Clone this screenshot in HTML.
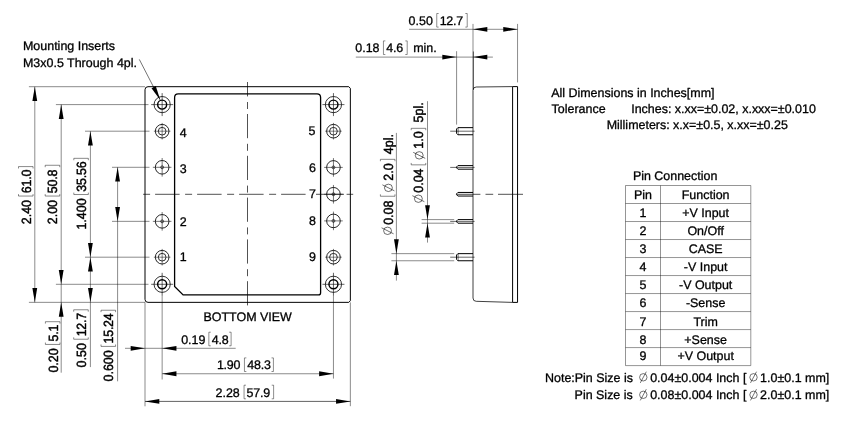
<!DOCTYPE html>
<html lang="en">
<head>
<meta charset="utf-8">
<title>Mechanical Drawing</title>
<style>html,body{margin:0;padding:0;background:#fff}svg{display:block;will-change:transform}text{white-space:pre;stroke:#000;stroke-width:0.3px;stroke-linejoin:round}.v text{stroke-width:0.42px}</style>
</head>
<body>
<svg width="849" height="431" viewBox="0 0 849 431" font-family="'Liberation Sans', sans-serif" fill="#000" text-rendering="geometricPrecision">
<rect width="849" height="431" fill="#fff"/>
<path d="M148.0,86.7 H348.75 L350.35,88.3 V300.75 L348.75,302.35 H148.0 Q145.0,302.35 145.0,299.35 V89.7 Q145.0,86.7 148.0,86.7 Z" fill="none" stroke="#000" stroke-width="1.0"/>
<path d="M178.2,93.8 H317.0 Q320.6,93.8 320.6,97.39999999999999 V292.7 Q320.6,294.9 318.40000000000003,294.9 H183.1 L174.6,286.4 V97.39999999999999 Q174.6,93.8 178.2,93.8 Z" fill="none" stroke="#000" stroke-width="1.3"/>
<circle cx="162.15" cy="104.6" r="8.1" fill="none" stroke="#000" stroke-width="0.8"/>
<circle cx="162.15" cy="104.6" r="4.5" fill="none" stroke="#000" stroke-width="1.45"/>
<line x1="151.15" y1="104.60" x2="173.15" y2="104.60" stroke="#000" stroke-width="0.62" />
<line x1="162.15" y1="93.10" x2="162.15" y2="116.10" stroke="#000" stroke-width="0.62" />
<circle cx="162.15" cy="284.3" r="8.1" fill="none" stroke="#000" stroke-width="0.8"/>
<circle cx="162.15" cy="284.3" r="4.5" fill="none" stroke="#000" stroke-width="1.45"/>
<line x1="151.15" y1="284.30" x2="173.15" y2="284.30" stroke="#000" stroke-width="0.62" />
<line x1="162.15" y1="272.80" x2="162.15" y2="295.80" stroke="#000" stroke-width="0.62" />
<circle cx="333.45" cy="104.6" r="8.1" fill="none" stroke="#000" stroke-width="0.8"/>
<circle cx="333.45" cy="104.6" r="4.5" fill="none" stroke="#000" stroke-width="1.45"/>
<line x1="322.45" y1="104.60" x2="344.45" y2="104.60" stroke="#000" stroke-width="0.62" />
<line x1="333.45" y1="93.10" x2="333.45" y2="116.10" stroke="#000" stroke-width="0.62" />
<circle cx="333.45" cy="284.3" r="8.1" fill="none" stroke="#000" stroke-width="0.8"/>
<circle cx="333.45" cy="284.3" r="4.5" fill="none" stroke="#000" stroke-width="1.45"/>
<line x1="322.45" y1="284.30" x2="344.45" y2="284.30" stroke="#000" stroke-width="0.62" />
<line x1="333.45" y1="272.80" x2="333.45" y2="295.80" stroke="#000" stroke-width="0.62" />
<circle cx="162.15" cy="131.2" r="6.8" fill="none" stroke="#000" stroke-width="0.85"/>
<circle cx="162.15" cy="131.2" r="3.85" fill="none" stroke="#000" stroke-width="0.8"/>
<line x1="153.85" y1="131.20" x2="170.45" y2="131.20" stroke="#000" stroke-width="0.5" />
<line x1="162.15" y1="122.90" x2="162.15" y2="139.50" stroke="#000" stroke-width="0.5" />
<circle cx="162.15" cy="167.3" r="6.8" fill="none" stroke="#000" stroke-width="0.85"/>
<circle cx="162.15" cy="167.3" r="1.45" fill="none" stroke="#000" stroke-width="0.65"/>
<line x1="152.85" y1="167.30" x2="171.45" y2="167.30" stroke="#000" stroke-width="0.55" />
<line x1="162.15" y1="158.00" x2="162.15" y2="176.60" stroke="#000" stroke-width="0.55" />
<circle cx="162.15" cy="221.35" r="6.8" fill="none" stroke="#000" stroke-width="0.85"/>
<circle cx="162.15" cy="221.35" r="1.45" fill="none" stroke="#000" stroke-width="0.65"/>
<line x1="152.85" y1="221.35" x2="171.45" y2="221.35" stroke="#000" stroke-width="0.55" />
<line x1="162.15" y1="212.05" x2="162.15" y2="230.65" stroke="#000" stroke-width="0.55" />
<circle cx="162.15" cy="257.2" r="6.8" fill="none" stroke="#000" stroke-width="0.85"/>
<circle cx="162.15" cy="257.2" r="3.85" fill="none" stroke="#000" stroke-width="0.8"/>
<line x1="153.85" y1="257.20" x2="170.45" y2="257.20" stroke="#000" stroke-width="0.5" />
<line x1="162.15" y1="248.90" x2="162.15" y2="265.50" stroke="#000" stroke-width="0.5" />
<circle cx="333.45" cy="131.2" r="6.8" fill="none" stroke="#000" stroke-width="0.85"/>
<circle cx="333.45" cy="131.2" r="3.85" fill="none" stroke="#000" stroke-width="0.8"/>
<line x1="325.15" y1="131.20" x2="341.75" y2="131.20" stroke="#000" stroke-width="0.5" />
<line x1="333.45" y1="122.90" x2="333.45" y2="139.50" stroke="#000" stroke-width="0.5" />
<circle cx="333.45" cy="167.4" r="6.8" fill="none" stroke="#000" stroke-width="0.85"/>
<circle cx="333.45" cy="167.4" r="1.45" fill="none" stroke="#000" stroke-width="0.65"/>
<line x1="324.15" y1="167.40" x2="342.75" y2="167.40" stroke="#000" stroke-width="0.55" />
<line x1="333.45" y1="158.10" x2="333.45" y2="176.70" stroke="#000" stroke-width="0.55" />
<circle cx="333.45" cy="194.25" r="6.8" fill="none" stroke="#000" stroke-width="0.85"/>
<circle cx="333.45" cy="194.25" r="1.45" fill="none" stroke="#000" stroke-width="0.65"/>
<line x1="324.15" y1="194.25" x2="342.75" y2="194.25" stroke="#000" stroke-width="0.55" />
<line x1="333.45" y1="184.95" x2="333.45" y2="203.55" stroke="#000" stroke-width="0.55" />
<circle cx="333.45" cy="220.9" r="6.8" fill="none" stroke="#000" stroke-width="0.85"/>
<circle cx="333.45" cy="220.9" r="1.45" fill="none" stroke="#000" stroke-width="0.65"/>
<line x1="324.15" y1="220.90" x2="342.75" y2="220.90" stroke="#000" stroke-width="0.55" />
<line x1="333.45" y1="211.60" x2="333.45" y2="230.20" stroke="#000" stroke-width="0.55" />
<circle cx="333.45" cy="257.2" r="6.8" fill="none" stroke="#000" stroke-width="0.85"/>
<circle cx="333.45" cy="257.2" r="3.85" fill="none" stroke="#000" stroke-width="0.8"/>
<line x1="325.15" y1="257.20" x2="341.75" y2="257.20" stroke="#000" stroke-width="0.5" />
<line x1="333.45" y1="248.90" x2="333.45" y2="265.50" stroke="#000" stroke-width="0.5" />
<line x1="247.5" y1="82" x2="247.5" y2="311" stroke="#000" stroke-width="0.68" stroke-dasharray="24.2 5.6 7 5" stroke-dashoffset="51.60"/>
<line x1="143" y1="194.3" x2="306" y2="194.3" stroke="#000" stroke-width="0.68" stroke-dasharray="24.5 5.5 7 5" stroke-dashoffset="29.90"/>
<line x1="316.00" y1="194.30" x2="344.00" y2="194.30" stroke="#000" stroke-width="0.68" />
<line x1="346.60" y1="194.30" x2="353.20" y2="194.30" stroke="#000" stroke-width="0.68" />
<text x="179.80" y="136.50" font-size="12.46" text-anchor="start" >4</text>
<text x="179.80" y="172.60" font-size="12.46" text-anchor="start" >3</text>
<text x="179.80" y="226.35" font-size="12.46" text-anchor="start" >2</text>
<text x="179.80" y="261.40" font-size="12.46" text-anchor="start" >1</text>
<text x="315.50" y="135.20" font-size="12.46" text-anchor="end" >5</text>
<text x="315.90" y="171.60" font-size="12.46" text-anchor="end" >6</text>
<text x="315.90" y="198.25" font-size="12.46" text-anchor="end" >7</text>
<text x="315.90" y="225.10" font-size="12.46" text-anchor="end" >8</text>
<text x="315.90" y="261.10" font-size="12.46" text-anchor="end" >9</text>
<text x="203.50" y="321.30" font-size="12.46" text-anchor="start" >BOTTOM VIEW</text>
<text x="23.00" y="50.40" font-size="12.46" text-anchor="start" >Mounting Inserts</text>
<text x="23.00" y="66.60" font-size="12.46" text-anchor="start" >M3x0.5 Through 4pl.</text>
<line x1="139.30" y1="59.40" x2="160.20" y2="99.90" stroke="#000" stroke-width="0.55" />
<polygon points="160.20,99.90 151.51,88.29 155.77,86.09" fill="#000"/>
<line x1="28.90" y1="86.70" x2="145.00" y2="86.70" stroke="#000" stroke-width="0.46" />
<line x1="28.90" y1="302.35" x2="145.00" y2="302.35" stroke="#000" stroke-width="0.46" />
<line x1="55.90" y1="104.60" x2="148.50" y2="104.60" stroke="#000" stroke-width="0.46" />
<line x1="55.90" y1="284.30" x2="148.50" y2="284.30" stroke="#000" stroke-width="0.46" />
<line x1="85.00" y1="131.20" x2="149.50" y2="131.20" stroke="#000" stroke-width="0.46" />
<line x1="85.00" y1="257.20" x2="149.50" y2="257.20" stroke="#000" stroke-width="0.46" />
<line x1="112.00" y1="167.30" x2="149.50" y2="167.30" stroke="#000" stroke-width="0.46" />
<line x1="112.00" y1="221.35" x2="149.50" y2="221.35" stroke="#000" stroke-width="0.46" />
<line x1="34.80" y1="86.70" x2="34.80" y2="302.35" stroke="#000" stroke-width="0.46" />
<polygon points="34.80,86.70 37.20,101.00 32.40,101.00" fill="#000"/>
<polygon points="34.80,302.35 32.40,288.05 37.20,288.05" fill="#000"/>
<line x1="61.20" y1="104.60" x2="61.20" y2="372.70" stroke="#000" stroke-width="0.46" />
<polygon points="61.20,104.60 63.60,118.90 58.80,118.90" fill="#000"/>
<polygon points="61.20,284.30 58.80,270.00 63.60,270.00" fill="#000"/>
<polygon points="61.20,302.35 63.60,316.65 58.80,316.65" fill="#000"/>
<line x1="90.40" y1="131.20" x2="90.40" y2="367.10" stroke="#000" stroke-width="0.46" />
<polygon points="90.40,131.20 92.80,145.50 88.00,145.50" fill="#000"/>
<polygon points="90.40,257.20 88.00,242.90 92.80,242.90" fill="#000"/>
<polygon points="90.40,257.20 92.80,271.50 88.00,271.50" fill="#000"/>
<polygon points="90.40,302.35 88.00,288.05 92.80,288.05" fill="#000"/>
<line x1="117.60" y1="167.30" x2="117.60" y2="381.30" stroke="#000" stroke-width="0.46" />
<polygon points="117.60,167.30 120.00,181.60 115.20,181.60" fill="#000"/>
<polygon points="117.60,221.35 115.20,207.05 120.00,207.05" fill="#000"/>
<g transform="translate(30.70,224.20) rotate(-90) scale(1,1.07)" class="v">
<text x="0.00" y="0.00" font-size="12.46" text-anchor="start" letter-spacing="0">2.40</text>
<path d="M30.05,-11.40 H28.15 V2.20 H30.05" fill="none" stroke="#000" stroke-width="0.45"/>
<text x="31.05" y="0.00" font-size="12.46" text-anchor="start" letter-spacing="-0.22">61.0</text>
<path d="M55.72,-11.40 H57.62 V2.20 H55.72" fill="none" stroke="#000" stroke-width="0.45"/>
</g>
<g transform="translate(57.40,224.20) rotate(-90) scale(1,1.07)" class="v">
<text x="0.00" y="0.00" font-size="12.46" text-anchor="start" letter-spacing="0">2.00</text>
<path d="M30.05,-11.40 H28.15 V2.20 H30.05" fill="none" stroke="#000" stroke-width="0.45"/>
<text x="31.05" y="0.00" font-size="12.46" text-anchor="start" letter-spacing="-0.22">50.8</text>
<path d="M57.02,-11.40 H58.92 V2.20 H57.02" fill="none" stroke="#000" stroke-width="0.45"/>
</g>
<g transform="translate(86.00,229.60) rotate(-90) scale(1,1.07)" class="v">
<text x="0.00" y="0.00" font-size="12.46" text-anchor="start" letter-spacing="0">1.400</text>
<path d="M36.98,-11.40 H35.08 V2.20 H36.98" fill="none" stroke="#000" stroke-width="0.45"/>
<text x="37.98" y="0.00" font-size="12.46" text-anchor="start" letter-spacing="-0.22">35.56</text>
<path d="M69.36,-11.40 H71.26 V2.20 H69.36" fill="none" stroke="#000" stroke-width="0.45"/>
</g>
<g transform="translate(57.60,372.60) rotate(-90) scale(1,1.07)" class="v">
<text x="0.00" y="0.00" font-size="12.46" text-anchor="start" letter-spacing="0">0.20</text>
<path d="M30.05,-11.40 H28.15 V2.20 H30.05" fill="none" stroke="#000" stroke-width="0.45"/>
<text x="31.05" y="0.00" font-size="12.46" text-anchor="start" letter-spacing="-0.22">5.1</text>
<path d="M49.01,-11.40 H50.91 V2.20 H49.01" fill="none" stroke="#000" stroke-width="0.45"/>
</g>
<g transform="translate(85.90,367.40) rotate(-90) scale(1,1.07)" class="v">
<text x="0.00" y="0.00" font-size="12.46" text-anchor="start" letter-spacing="0">0.50</text>
<path d="M30.05,-11.40 H28.15 V2.20 H30.05" fill="none" stroke="#000" stroke-width="0.45"/>
<text x="31.05" y="0.00" font-size="12.46" text-anchor="start" letter-spacing="-0.22">12.7</text>
<path d="M55.72,-11.40 H57.62 V2.20 H55.72" fill="none" stroke="#000" stroke-width="0.45"/>
</g>
<g transform="translate(113.20,381.50) rotate(-90) scale(1,1.07)" class="v">
<text x="0.00" y="0.00" font-size="12.46" text-anchor="start" letter-spacing="0">0.600</text>
<path d="M36.98,-11.40 H35.08 V2.20 H36.98" fill="none" stroke="#000" stroke-width="0.45"/>
<text x="37.98" y="0.00" font-size="12.46" text-anchor="start" letter-spacing="-0.22">15.24</text>
<path d="M69.36,-11.40 H71.26 V2.20 H69.36" fill="none" stroke="#000" stroke-width="0.45"/>
</g>
<line x1="145.00" y1="302.35" x2="145.00" y2="406.30" stroke="#000" stroke-width="0.46" />
<line x1="162.15" y1="295.80" x2="162.15" y2="379.50" stroke="#000" stroke-width="0.46" />
<line x1="333.45" y1="295.80" x2="333.45" y2="378.60" stroke="#000" stroke-width="0.46" />
<line x1="350.35" y1="302.35" x2="350.35" y2="406.20" stroke="#000" stroke-width="0.46" />
<line x1="125.00" y1="348.30" x2="235.70" y2="348.30" stroke="#000" stroke-width="0.46" />
<polygon points="145.00,348.30 130.70,350.70 130.70,345.90" fill="#000"/>
<polygon points="162.15,348.30 176.45,345.90 176.45,350.70" fill="#000"/>
<text x="181.20" y="343.60" font-size="12.46" text-anchor="start" letter-spacing="0">0.19</text>
<path d="M210.75,332.20 H208.85 V345.80 H210.75" fill="none" stroke="#000" stroke-width="0.45"/>
<text x="211.75" y="343.60" font-size="12.46" text-anchor="start" letter-spacing="-0.22">4.8</text>
<path d="M229.21,332.20 H231.11 V345.80 H229.21" fill="none" stroke="#000" stroke-width="0.45"/>
<line x1="162.15" y1="373.75" x2="333.45" y2="373.75" stroke="#000" stroke-width="0.46" />
<polygon points="162.15,373.75 176.45,371.35 176.45,376.15" fill="#000"/>
<polygon points="333.45,373.75 319.15,376.15 319.15,371.35" fill="#000"/>
<text x="216.90" y="369.30" font-size="12.46" text-anchor="start" letter-spacing="-0.25">1.90</text>
<path d="M246.35,357.90 H244.45 V371.50 H246.35" fill="none" stroke="#000" stroke-width="0.45"/>
<text x="247.35" y="369.30" font-size="12.46" text-anchor="start" letter-spacing="-0.22">48.3</text>
<path d="M271.52,357.90 H273.42 V371.50 H271.52" fill="none" stroke="#000" stroke-width="0.45"/>
<line x1="145.00" y1="401.40" x2="350.35" y2="401.40" stroke="#000" stroke-width="0.62" />
<polygon points="145.00,401.40 159.30,399.00 159.30,403.80" fill="#000"/>
<polygon points="350.35,401.40 336.05,403.80 336.05,399.00" fill="#000"/>
<text x="215.50" y="396.60" font-size="12.46" text-anchor="start" letter-spacing="0">2.28</text>
<path d="M245.95,385.20 H244.05 V398.80 H245.95" fill="none" stroke="#000" stroke-width="0.45"/>
<text x="246.55" y="396.60" font-size="12.46" text-anchor="start" letter-spacing="-0.22">57.9</text>
<path d="M271.72,385.20 H273.62 V398.80 H271.72" fill="none" stroke="#000" stroke-width="0.45"/>
<path d="M512.6,86.6 L476.2,87.0 Q473.0,87.0 473.0,90.3 V298.0 Q473.0,301.29999999999995 476.2,301.29999999999995 L512.6,302.4" fill="none" stroke="#000" stroke-width="0.75"/>
<path d="M512.6,86.6 H517.55 V302.4 H512.6 Z" fill="none" stroke="#000" stroke-width="1.0"/>
<path d="M473.0,127.64999999999999 H457.90000000000003 L456.6,128.95 V133.45 L457.90000000000003,134.75 H473.0" fill="none" stroke="#000" stroke-width="1.0"/>
<line x1="458.20" y1="127.65" x2="458.20" y2="134.75" stroke="#000" stroke-width="0.5" />
<line x1="450.20" y1="131.20" x2="474.60" y2="131.20" stroke="#000" stroke-width="0.6" />
<path d="M473.0,165.6 H457.90000000000003 L456.6,166.9 V167.9 L457.90000000000003,169.20000000000002 H473.0" fill="none" stroke="#000" stroke-width="1.0"/>
<line x1="450.20" y1="167.40" x2="474.60" y2="167.40" stroke="#000" stroke-width="0.6" />
<path d="M473.0,192.45 H457.90000000000003 L456.6,193.75 V194.75 L457.90000000000003,196.05 H473.0" fill="none" stroke="#000" stroke-width="1.0"/>
<path d="M473.0,219.6 H457.90000000000003 L456.6,220.9 V221.9 L457.90000000000003,223.20000000000002 H473.0" fill="none" stroke="#000" stroke-width="1.0"/>
<line x1="450.20" y1="221.40" x2="474.60" y2="221.40" stroke="#000" stroke-width="0.6" />
<path d="M473.0,253.64999999999998 H457.90000000000003 L456.6,254.95 V259.45 L457.90000000000003,260.75 H473.0" fill="none" stroke="#000" stroke-width="1.0"/>
<line x1="458.20" y1="253.65" x2="458.20" y2="260.75" stroke="#000" stroke-width="0.5" />
<line x1="450.20" y1="257.20" x2="474.60" y2="257.20" stroke="#000" stroke-width="0.6" />
<line x1="456.60" y1="194.30" x2="480.40" y2="194.30" stroke="#000" stroke-width="0.68" />
<line x1="485.50" y1="194.30" x2="493.20" y2="194.30" stroke="#000" stroke-width="0.68" />
<line x1="498.00" y1="194.30" x2="523.00" y2="194.30" stroke="#000" stroke-width="0.68" />
<line x1="473.00" y1="23.90" x2="473.00" y2="89.60" stroke="#000" stroke-width="0.46" />
<line x1="473.40" y1="51.50" x2="473.40" y2="89.60" stroke="#000" stroke-width="0.6" />
<line x1="517.55" y1="23.90" x2="517.55" y2="82.40" stroke="#000" stroke-width="0.46" />
<line x1="456.60" y1="51.20" x2="456.60" y2="124.60" stroke="#000" stroke-width="0.46" />
<line x1="409.10" y1="29.30" x2="517.55" y2="29.30" stroke="#000" stroke-width="0.46" />
<polygon points="473.00,29.30 487.30,26.90 487.30,31.70" fill="#000"/>
<polygon points="517.55,29.30 503.25,31.70 503.25,26.90" fill="#000"/>
<text x="408.60" y="24.90" font-size="12.46" text-anchor="start" letter-spacing="0">0.50</text>
<path d="M438.65,13.50 H436.75 V27.10 H438.65" fill="none" stroke="#000" stroke-width="0.45"/>
<text x="439.65" y="24.90" font-size="12.46" text-anchor="start" letter-spacing="-0.22">12.7</text>
<path d="M465.32,13.50 H467.22 V27.10 H465.32" fill="none" stroke="#000" stroke-width="0.45"/>
<line x1="355.80" y1="57.10" x2="492.90" y2="57.10" stroke="#000" stroke-width="0.46" />
<polygon points="456.60,57.10 442.30,59.50 442.30,54.70" fill="#000"/>
<polygon points="473.00,57.10 487.30,54.70 487.30,59.50" fill="#000"/>
<text x="355.30" y="52.30" font-size="12.46" text-anchor="start" letter-spacing="0">0.18</text>
<path d="M385.35,40.90 H383.45 V54.50 H385.35" fill="none" stroke="#000" stroke-width="0.45"/>
<text x="386.35" y="52.30" font-size="12.46" text-anchor="start" letter-spacing="-0.22">4.6</text>
<path d="M405.31,40.90 H407.21 V54.50 H405.31" fill="none" stroke="#000" stroke-width="0.45"/>
<text x="413.21" y="52.30" font-size="12.46" text-anchor="start" >min.</text>
<line x1="421.60" y1="219.60" x2="454.20" y2="219.60" stroke="#000" stroke-width="0.46" />
<line x1="421.60" y1="223.20" x2="454.20" y2="223.20" stroke="#000" stroke-width="0.46" />
<line x1="391.40" y1="253.65" x2="454.20" y2="253.65" stroke="#000" stroke-width="0.46" />
<line x1="391.40" y1="260.75" x2="454.20" y2="260.75" stroke="#000" stroke-width="0.46" />
<line x1="427.50" y1="101.20" x2="427.50" y2="242.60" stroke="#000" stroke-width="0.46" />
<polygon points="427.50,219.60 425.10,205.30 429.90,205.30" fill="#000"/>
<polygon points="427.50,223.20 429.90,237.50 425.10,237.50" fill="#000"/>
<line x1="396.40" y1="132.90" x2="396.40" y2="280.60" stroke="#000" stroke-width="0.46" />
<polygon points="396.40,253.65 394.00,239.35 398.80,239.35" fill="#000"/>
<polygon points="396.40,260.75 398.80,275.05 394.00,275.05" fill="#000"/>
<g transform="translate(423.40,203.30) rotate(-90) scale(1,1.07)" class="v">
<circle cx="4.60" cy="-4.70" r="3.7" fill="none" stroke="#000" stroke-width="0.55"/>
<line x1="1.60" y1="0.90" x2="7.60" y2="-10.30" stroke="#000" stroke-width="0.55" />
<circle cx="47.95" cy="-3.90" r="3.7" fill="none" stroke="#000" stroke-width="0.55"/>
<line x1="44.95" y1="1.70" x2="50.95" y2="-9.50" stroke="#000" stroke-width="0.55" />
<text x="10.60" y="0.00" font-size="12.46" text-anchor="start" letter-spacing="0">0.04</text>
<path d="M40.35,-11.40 H38.45 V2.20 H40.35" fill="none" stroke="#000" stroke-width="0.45"/>
<text x="54.65" y="0.00" font-size="12.46" text-anchor="start" letter-spacing="0">1.0</text>
<path d="M73.07,-11.40 H74.97 V2.20 H73.07" fill="none" stroke="#000" stroke-width="0.45"/>
<text x="80.87" y="0.00" font-size="12.46" text-anchor="start" >5pl.</text>
</g>
<g transform="translate(392.60,235.40) rotate(-90) scale(1,1.07)" class="v">
<circle cx="4.60" cy="-4.70" r="3.7" fill="none" stroke="#000" stroke-width="0.55"/>
<line x1="1.60" y1="0.90" x2="7.60" y2="-10.30" stroke="#000" stroke-width="0.55" />
<circle cx="47.55" cy="-3.90" r="3.7" fill="none" stroke="#000" stroke-width="0.55"/>
<line x1="44.55" y1="1.70" x2="50.55" y2="-9.50" stroke="#000" stroke-width="0.55" />
<text x="10.60" y="0.00" font-size="12.46" text-anchor="start" letter-spacing="0">0.08</text>
<path d="M41.05,-11.40 H39.15 V2.20 H41.05" fill="none" stroke="#000" stroke-width="0.45"/>
<text x="54.65" y="0.00" font-size="12.46" text-anchor="start" letter-spacing="0">2.0</text>
<path d="M74.17,-11.40 H76.07 V2.20 H74.17" fill="none" stroke="#000" stroke-width="0.45"/>
<text x="81.27" y="0.00" font-size="12.46" text-anchor="start" >4pl.</text>
</g>
<text x="551.20" y="96.50" font-size="12.46" text-anchor="start" >All Dimensions in Inches[mm]</text>
<text x="551.60" y="112.80" font-size="12.46" text-anchor="start" >Tolerance</text>
<text x="631.20" y="112.80" font-size="12.46" text-anchor="start" >Inches: x.xx=±0.02, x.xxx=±0.010</text>
<text x="606.70" y="128.80" font-size="12.46" text-anchor="start" >Millimeters: x.x=±0.5, x.xx=±0.25</text>
<text x="632.90" y="180.00" font-size="12.46" text-anchor="start" >Pin Connection</text>
<line x1="625.50" y1="185.50" x2="750.80" y2="185.50" stroke="#000" stroke-width="0.42" />
<line x1="625.50" y1="203.51" x2="750.80" y2="203.51" stroke="#000" stroke-width="0.42" />
<line x1="625.50" y1="221.52" x2="750.80" y2="221.52" stroke="#000" stroke-width="0.42" />
<line x1="625.50" y1="239.53" x2="750.80" y2="239.53" stroke="#000" stroke-width="0.42" />
<line x1="625.50" y1="257.54" x2="750.80" y2="257.54" stroke="#000" stroke-width="0.42" />
<line x1="625.50" y1="275.55" x2="750.80" y2="275.55" stroke="#000" stroke-width="0.42" />
<line x1="625.50" y1="293.56" x2="750.80" y2="293.56" stroke="#000" stroke-width="0.42" />
<line x1="625.50" y1="311.57" x2="750.80" y2="311.57" stroke="#000" stroke-width="0.42" />
<line x1="625.50" y1="329.58" x2="750.80" y2="329.58" stroke="#000" stroke-width="0.42" />
<line x1="625.50" y1="347.59" x2="750.80" y2="347.59" stroke="#000" stroke-width="0.42" />
<line x1="625.50" y1="365.60" x2="750.80" y2="365.60" stroke="#000" stroke-width="0.42" />
<line x1="625.50" y1="185.50" x2="625.50" y2="365.60" stroke="#000" stroke-width="0.42" />
<line x1="660.50" y1="185.50" x2="660.50" y2="365.60" stroke="#000" stroke-width="0.42" />
<line x1="750.80" y1="185.50" x2="750.80" y2="365.60" stroke="#000" stroke-width="0.42" />
<text x="643.00" y="199.40" font-size="12.46" text-anchor="middle" >Pin</text>
<text x="705.65" y="199.40" font-size="12.46" text-anchor="middle" >Function</text>
<text x="643.00" y="216.70" font-size="12.46" text-anchor="middle" >1</text>
<text x="705.65" y="216.70" font-size="12.46" text-anchor="middle" >+V Input</text>
<text x="643.00" y="234.84" font-size="12.46" text-anchor="middle" >2</text>
<text x="705.65" y="234.84" font-size="12.46" text-anchor="middle" >On/Off</text>
<text x="643.00" y="252.98" font-size="12.46" text-anchor="middle" >3</text>
<text x="705.65" y="252.98" font-size="12.46" text-anchor="middle" >CASE</text>
<text x="643.00" y="271.12" font-size="12.46" text-anchor="middle" >4</text>
<text x="705.65" y="271.12" font-size="12.46" text-anchor="middle" >-V Input</text>
<text x="643.00" y="289.26" font-size="12.46" text-anchor="middle" >5</text>
<text x="705.65" y="289.26" font-size="12.46" text-anchor="middle" >-V Output</text>
<text x="643.00" y="307.40" font-size="12.46" text-anchor="middle" >6</text>
<text x="705.65" y="307.40" font-size="12.46" text-anchor="middle" >-Sense</text>
<text x="643.00" y="325.54" font-size="12.46" text-anchor="middle" >7</text>
<text x="705.65" y="325.54" font-size="12.46" text-anchor="middle" >Trim</text>
<text x="643.00" y="343.68" font-size="12.46" text-anchor="middle" >8</text>
<text x="705.65" y="343.68" font-size="12.46" text-anchor="middle" >+Sense</text>
<text x="643.00" y="360.30" font-size="12.46" text-anchor="middle" >9</text>
<text x="705.65" y="360.30" font-size="12.46" text-anchor="middle" >+V Output</text>
<text x="545.00" y="381.50" font-size="12.46" text-anchor="start" >Note:Pin Size is</text>
<circle cx="643.30" cy="377.30" r="3.7" fill="none" stroke="#000" stroke-width="0.55"/>
<line x1="640.30" y1="382.90" x2="646.30" y2="371.70" stroke="#000" stroke-width="0.55" />
<text x="650.20" y="381.50" font-size="12.46" text-anchor="start" >0.04±0.004 Inch [</text>
<circle cx="753.50" cy="377.30" r="3.7" fill="none" stroke="#000" stroke-width="0.55"/>
<line x1="750.50" y1="382.90" x2="756.50" y2="371.70" stroke="#000" stroke-width="0.55" />
<text x="760.10" y="381.50" font-size="12.46" text-anchor="start" >1.0±0.1 mm]</text>
<text x="574.60" y="399.00" font-size="12.46" text-anchor="start" >Pin Size is</text>
<circle cx="643.30" cy="394.80" r="3.7" fill="none" stroke="#000" stroke-width="0.55"/>
<line x1="640.30" y1="400.40" x2="646.30" y2="389.20" stroke="#000" stroke-width="0.55" />
<text x="650.20" y="399.00" font-size="12.46" text-anchor="start" >0.08±0.004 Inch [</text>
<circle cx="753.50" cy="394.80" r="3.7" fill="none" stroke="#000" stroke-width="0.55"/>
<line x1="750.50" y1="400.40" x2="756.50" y2="389.20" stroke="#000" stroke-width="0.55" />
<text x="760.10" y="399.00" font-size="12.46" text-anchor="start" >2.0±0.1 mm]</text>
</svg>
</body>
</html>
